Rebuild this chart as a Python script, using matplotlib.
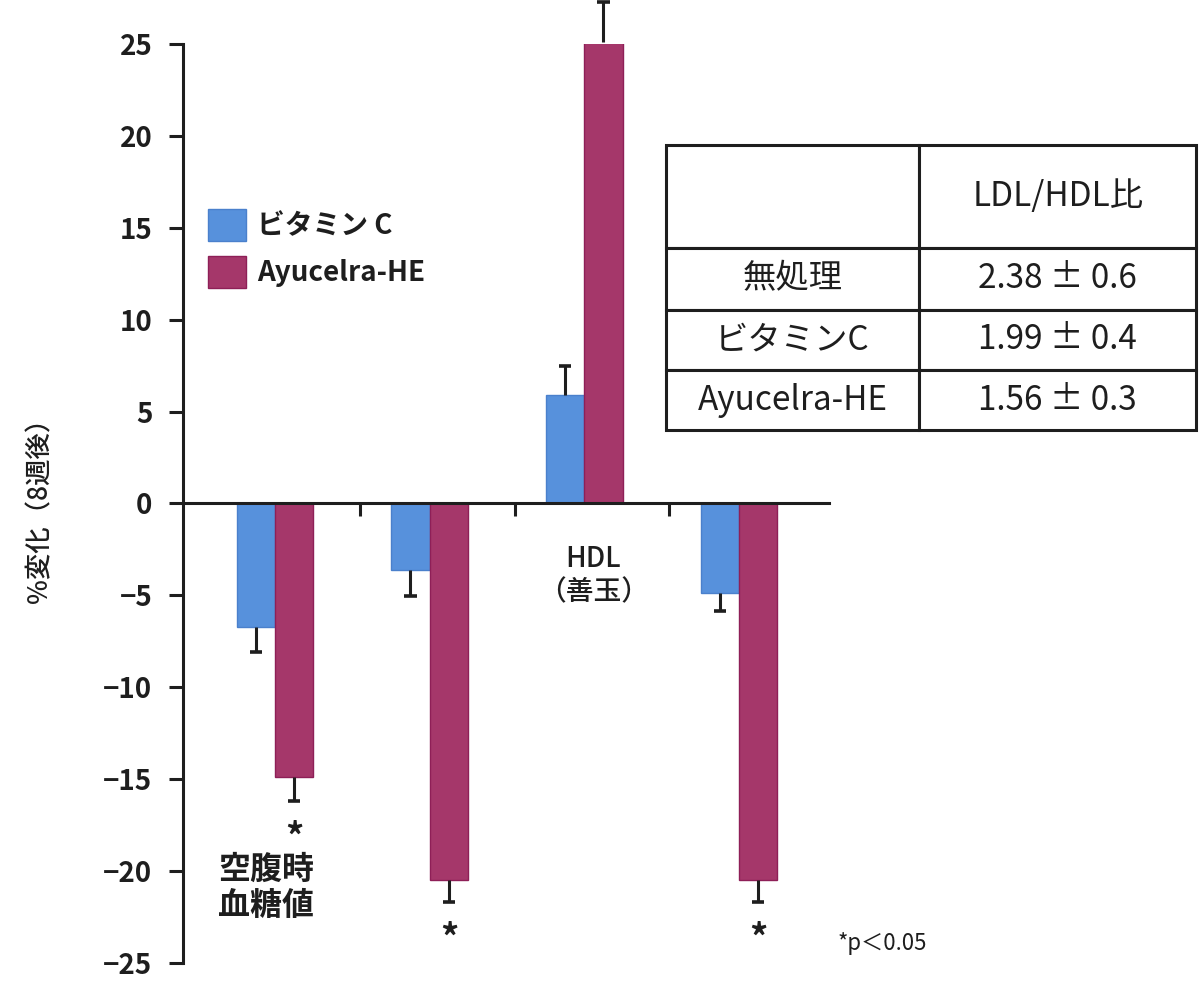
import numpy as np
import matplotlib.pyplot as plt

plt.rcParams['font.family'] = ['Noto Sans CJK JP', 'DejaVu Sans']

# データ
groups = ['空腹時\n血糖値', '', 'HDL\n（善玉）', '']
vitc = [-6.7, -3.6, 5.9, -4.85]
vitc_err = [1.4, 1.45, 1.6, 1.0]
ayu = [-14.9, -20.5, 25.1, -20.5]
ayu_err = [1.3, 1.2, 2.2, 1.2]
signif = [True, True, False, True]

table_rows = ['無処理', 'ビタミンC', 'Ayucelra-HE']
table_vals = ['2.38 ± 0.6', '1.99 ± 0.4', '1.56 ± 0.3']

blue = '#5791DC'
blue_edge = '#4A80CC'
mag = '#A5376A'
mag_edge = '#8E1F57'
ink = '#1E1E1E'

fig = plt.figure(figsize=(12, 9.98), dpi=100)
ax = fig.add_axes([0.1525, 0.035, 0.538, 0.921])

x = np.arange(len(groups))
w = 0.248


def draw_err(xpos, vals, errs):
    # 片側のみのエラーバー（ゼロから離れる方向）
    tips = [v - e if v < 0 else v + e for v, e in zip(vals, errs)]
    ax.vlines(xpos, vals, tips, color=ink, linewidth=2.2, zorder=3, clip_on=False)
    ax.hlines(tips, xpos - 0.04, xpos + 0.04, color=ink, linewidth=2.6, zorder=3,
              clip_on=False)
    return tips


ax.bar(x - w / 2, vitc, w, color=blue, edgecolor=blue_edge, linewidth=1, zorder=2,
       label='ビタミン C')
ax.bar(x + w / 2, ayu, w, color=mag, edgecolor=mag_edge, linewidth=1, zorder=2,
       label='Ayucelra-HE')
draw_err(x - w / 2, vitc, vitc_err)
ayu_tips = draw_err(x + w / 2, ayu, ayu_err)

# 有意差マーク
for i in range(len(groups)):
    if signif[i]:
        ax.text(x[i] + w / 2, ayu_tips[i] - 2.0, '*', ha='center', va='center',
                fontsize=26, fontweight='bold', color=ink)

# グループ名
ax.text(x[0] - 0.06, -20.9, groups[0], ha='center', va='center', fontsize=23,
        fontweight='bold', linespacing=1.15, color=ink)
ax.text(x[2] + 0.06, -3.9, groups[2], ha='center', va='center', fontsize=20,
        fontweight='medium', linespacing=1.15, color=ink)

ax.set_xlim(-0.595, 3.58)
ax.set_ylim(-25, 25)
ax.set_yticks(np.arange(-25, 26, 5))
ax.set_yticklabels([str(v) if v >= 0 else '−' + str(-v) for v in range(-25, 26, 5)])
ax.set_xticks([0.55, 1.55, 2.55])
ax.set_xticklabels([])

ax.spines['top'].set_visible(False)
ax.spines['right'].set_visible(False)
ax.spines['bottom'].set_position(('data', 0))
for s in ['left', 'bottom']:
    ax.spines[s].set_linewidth(2.2)
    ax.spines[s].set_color(ink)
ax.tick_params(axis='y', length=10, width=2.2, labelsize=20, pad=12, colors=ink)
ax.tick_params(axis='x', length=9, width=2.2, direction='out', colors=ink)
for t in ax.get_yticklabels():
    t.set_fontweight('bold')

ax.set_ylabel('%変化（8週後）', fontsize=19, fontweight='medium', labelpad=36, color=ink)

leg = ax.legend(loc='upper left', bbox_to_anchor=(0.039, 0.82), frameon=False,
                prop={'size': 20, 'weight': 'bold'}, handlelength=1.37,
                handleheight=1.37, handletextpad=0.4, labelspacing=0.55,
                borderpad=0, borderaxespad=0)
for t in leg.get_texts():
    t.set_color(ink)

fig.text(0.698, 0.055, '*p＜0.05', fontsize=16, ha='left', va='center', color=ink)

# LDL/HDL比 テーブル
tax = fig.add_axes([0.555, 0.569, 0.442, 0.286])
tax.axis('off')
cell_text = [['', 'LDL/HDL比']] + [[r, v] for r, v in zip(table_rows, table_vals)]
tbl = tax.table(cellText=cell_text, cellLoc='center', bbox=[0, 0, 1, 1])
tbl.auto_set_font_size(False)
heights = [0.361, 0.218, 0.211, 0.211]
widths = [0.477, 0.523]
for (r, c), cell in tbl.get_celld().items():
    cell.set_height(heights[r])
    cell.set_width(widths[c])
    cell.set_linewidth(2.2)
    cell.set_edgecolor(ink)
    cell.get_text().set_fontsize(24)
    cell.get_text().set_color(ink)

fig.savefig('out.png', dpi=100)
